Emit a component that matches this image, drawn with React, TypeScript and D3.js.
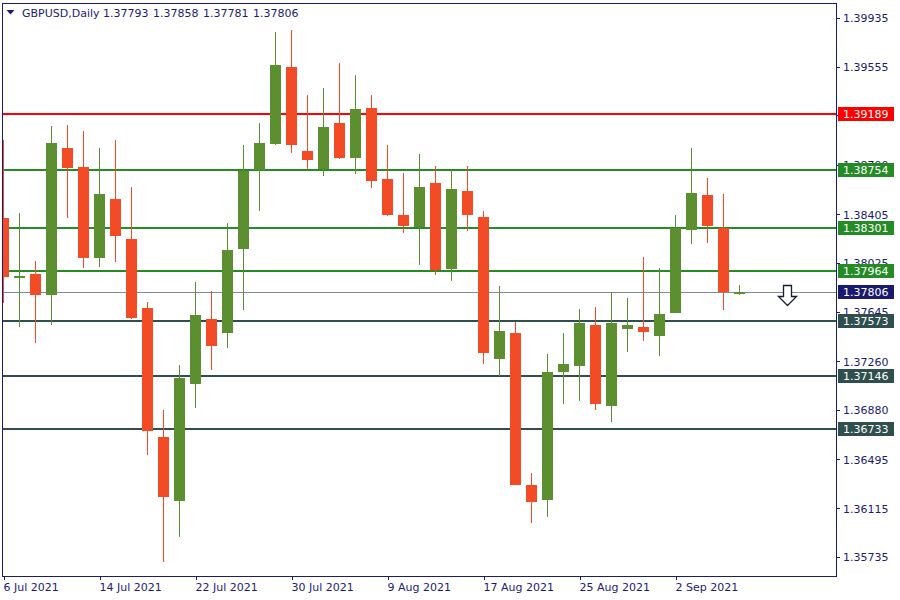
import * as d3 from "d3";

// GBPUSD daily, 6 Jul 2021 .. 8 Sep 2021
const dates = [
  "6 Jul 2021", "7 Jul 2021", "8 Jul 2021", "9 Jul 2021", "12 Jul 2021", "13 Jul 2021",
  "14 Jul 2021", "15 Jul 2021", "16 Jul 2021", "19 Jul 2021", "20 Jul 2021", "21 Jul 2021",
  "22 Jul 2021", "23 Jul 2021", "26 Jul 2021", "27 Jul 2021", "28 Jul 2021", "29 Jul 2021",
  "30 Jul 2021", "2 Aug 2021", "3 Aug 2021", "4 Aug 2021", "5 Aug 2021", "6 Aug 2021",
  "9 Aug 2021", "10 Aug 2021", "11 Aug 2021", "12 Aug 2021", "13 Aug 2021", "16 Aug 2021",
  "17 Aug 2021", "18 Aug 2021", "19 Aug 2021", "20 Aug 2021", "23 Aug 2021", "24 Aug 2021",
  "25 Aug 2021", "26 Aug 2021", "27 Aug 2021", "30 Aug 2021", "31 Aug 2021", "1 Sep 2021",
  "2 Sep 2021", "3 Sep 2021", "6 Sep 2021", "7 Sep 2021", "8 Sep 2021",
];

const open = [
  1.38377, 1.37913, 1.3794, 1.37779, 1.38922, 1.38774, 1.38067, 1.38525, 1.38213, 1.37675,
  1.3667, 1.36174, 1.37086, 1.3759, 1.37483, 1.38137, 1.38753, 1.38953, 1.39553, 1.38899,
  1.38758, 1.39117, 1.38846, 1.39234, 1.38681, 1.384, 1.38307, 1.38649, 1.37982, 1.38587,
  1.38384, 1.3728, 1.37481, 1.36296, 1.36182, 1.37179, 1.37226, 1.37543, 1.36914, 1.37514,
  1.37527, 1.3746, 1.37639, 1.38285, 1.38556, 1.38299, 1.37793,
];
const high = [
  1.38984, 1.38416, 1.38042, 1.39094, 1.39101, 1.39055, 1.38922, 1.38984, 1.38618, 1.37722,
  1.36881, 1.37231, 1.37878, 1.37808, 1.38338, 1.38945, 1.39117, 1.39826, 1.39842, 1.39335,
  1.3939, 1.39584, 1.39491, 1.39335, 1.38945, 1.38727, 1.38875, 1.38782, 1.38751, 1.38782,
  1.38431, 1.37847, 1.37566, 1.3639, 1.37317, 1.37481, 1.37668, 1.37683, 1.37802, 1.37753,
  1.38073, 1.37987, 1.384, 1.38922, 1.38688, 1.38564, 1.37858,
];
const low = [
  1.37717, 1.3753, 1.37405, 1.37545, 1.38379, 1.37989, 1.37997, 1.38036, 1.3759, 1.36532,
  1.35699, 1.35893, 1.36899, 1.37195, 1.37366, 1.3766, 1.38431, 1.38945, 1.38885, 1.38758,
  1.38704, 1.3884, 1.38719, 1.38613, 1.38398, 1.38262, 1.3801, 1.37935, 1.37888, 1.38278,
  1.37241, 1.37148, 1.36296, 1.36002, 1.36049, 1.3693, 1.36953, 1.36883, 1.36789, 1.37335,
  1.37421, 1.37304, 1.37637, 1.38176, 1.38184, 1.37662, 1.37781,
];
const close = [
  1.37919, 1.37925, 1.37779, 1.38961, 1.38769, 1.38067, 1.38564, 1.38239, 1.376, 1.36719,
  1.36205, 1.3713, 1.37621, 1.37382, 1.38127, 1.38745, 1.38961, 1.39569, 1.38945, 1.38829,
  1.39086, 1.38846, 1.39226, 1.38667, 1.384, 1.38317, 1.38618, 1.37974, 1.38603, 1.384,
  1.37327, 1.37496, 1.36299, 1.36166, 1.37177, 1.37239, 1.37558, 1.3693, 1.37558, 1.37543,
  1.37491, 1.37629, 1.38299, 1.38571, 1.38317, 1.378, 1.37806,
];

const priceTicks = [
  1.39935, 1.39555, 1.39175, 1.3879, 1.38405, 1.38025, 1.37645, 1.3726, 1.3688, 1.36495,
  1.36115, 1.35735,
];
const dateTicks = [
  "6 Jul 2021", "14 Jul 2021", "22 Jul 2021", "30 Jul 2021", "9 Aug 2021",
  "17 Aug 2021", "25 Aug 2021", "2 Sep 2021",
];

const redLevels = [1.39189];
const greenLevels = [1.38754, 1.38301, 1.37964];
const slateLevels = [1.37573, 1.37146, 1.36733];
const bid = 1.37806;
const signalBar = 49;

const W = 900;
const H = 600;
const left = 2;
const right = 836;
const top = 3;
const bottom = 576;

const BULL = "#5b8f2f";
const BEAR = "#f34b26";
const AXIS = "#1c1c6e";
const FONT = "'DejaVu Sans', sans-serif";

export default function App() {
  const x = d3.scaleLinear().domain([0, dates.length - 1]).range([3.5, 3.5 + 16 * (dates.length - 1)]);
  const y = d3.scaleLinear().domain([1.35735, 1.39935]).range([557.3, 18.3]);

  const levels = [
    ...redLevels.map((v) => ({ v, color: "#ff0000" })),
    ...greenLevels.map((v) => ({ v, color: "#258b25" })),
    ...slateLevels.map((v) => ({ v, color: "#2f4f4f" })),
  ];

  const ax = x(signalBar);
  const ay = y(bid) - 6;
  const last = open.length - 1;
  const ohlc = [open[last], high[last], low[last], close[last]];

  return (
    <svg width={W} height={H} style={{ position: "absolute", left: 0, top: 0, background: "#fff" }} fontFamily={FONT}>
      <defs>
        <clipPath id="plot">
          <rect x={left} y={top} width={right - left} height={bottom - top} />
        </clipPath>
      </defs>

      {/* level lines */}
      <g clipPath="url(#plot)" shapeRendering="crispEdges">
        {levels.map((l, i) => (
          <line key={i} x1={left} x2={right} y1={y(l.v)} y2={y(l.v)} stroke={l.color} strokeWidth={2} />
        ))}
        <line x1={left} x2={right} y1={Math.round(y(bid)) + 0.5} y2={Math.round(y(bid)) + 0.5} stroke="#7f8a96" strokeWidth={1} />
      </g>

      {/* candles */}
      <g clipPath="url(#plot)" shapeRendering="crispEdges">
        {dates.map((d, i) => {
          const up = close[i] >= open[i];
          const col = up ? BULL : BEAR;
          const cx = x(i);
          const yt = y(Math.max(open[i], close[i]));
          const yb = y(Math.min(open[i], close[i]));
          return (
            <g key={d}>
              <line x1={cx} x2={cx} y1={y(high[i])} y2={y(low[i])} stroke={col} strokeWidth={1} />
              <rect x={cx - 5.5} y={yt} width={11} height={Math.max(2, yb - yt)} fill={col} />
            </g>
          );
        })}
      </g>

      {/* sell arrow */}
      <path
        d={`M${ax - 4},${ay} h8 v11 h5 l-9,9 l-9,-9 h5 z`}
        fill="#fff"
        stroke="#1a1a2e"
        strokeWidth={1.3}
        strokeLinejoin="miter"
      />

      {/* frame */}
      <rect x={left} y={top} width={right - left} height={bottom - top} fill="none" stroke={AXIS} strokeWidth={1} shapeRendering="crispEdges" />

      {/* price axis */}
      <g fontSize={11} fill={AXIS}>
        {priceTicks.map((p) => (
          <g key={p}>
            <line x1={right} x2={right + 4} y1={y(p)} y2={y(p)} stroke={AXIS} shapeRendering="crispEdges" />
            <text x={843} y={y(p) + 4}>{p.toFixed(5)}</text>
          </g>
        ))}
      </g>

      {/* level labels */}
      <g fontSize={11}>
        {[...levels, { v: bid, color: "#191970" }].map((l, i) => (
          <g key={i}>
            <rect x={838} y={Math.round(y(l.v)) - 7} width={56} height={14} fill={l.color} />
            <text x={843} y={y(l.v) + 4} fill="#fff">{l.v.toFixed(5)}</text>
          </g>
        ))}
      </g>

      {/* date axis */}
      <g fontSize={11} fill={AXIS}>
        {dateTicks.map((t) => {
          const tx = Math.round(x(dates.indexOf(t)));
          return (
            <g key={t}>
              <line x1={tx + 0.5} x2={tx + 0.5} y1={bottom} y2={bottom + 4} stroke={AXIS} shapeRendering="crispEdges" />
              <text x={tx - 0.5} y={591}>{t}</text>
            </g>
          );
        })}
      </g>

      {/* header */}
      <path d="M6.5,10 h8 l-4,4.5 z" fill={AXIS} />
      <g fontSize={11} fill={AXIS}>
        <text x={22} y={16.5}>GBPUSD,Daily</text>
        {ohlc.map((v, i) => (
          <text key={i} x={103 + i * 50} y={16.5}>{v.toFixed(5)}</text>
        ))}
      </g>
    </svg>
  );
}
